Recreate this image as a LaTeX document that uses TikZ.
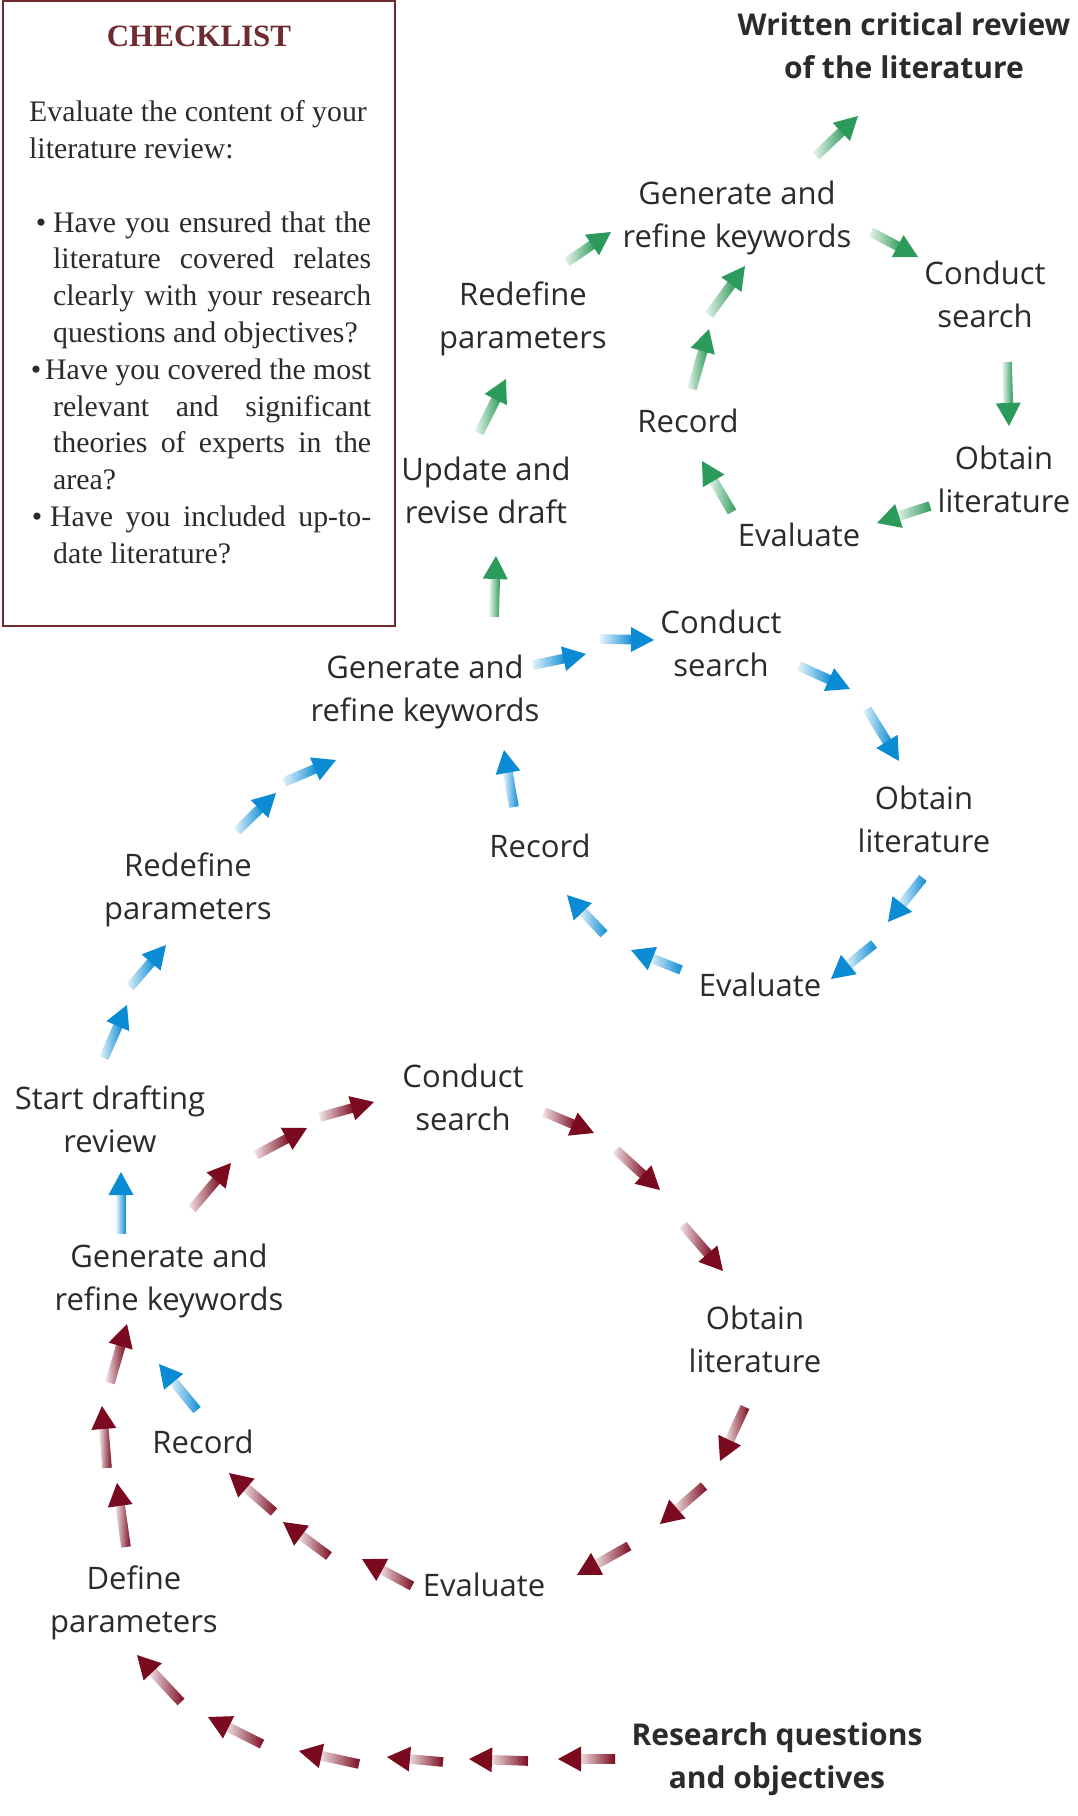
\documentclass[tikz,border=0pt]{standalone}
\usepackage{fontspec}
\setmainfont{Liberation Serif}
\newfontfamily\lblfont{Open Sans}
\usetikzlibrary{calc}
\definecolor{txt}{HTML}{2B2B2B}
\definecolor{boxc}{HTML}{6E2B30}
\definecolor{redc}{HTML}{7A0A1E}
\definecolor{bluec}{HTML}{0B8BD3}
\definecolor{greenc}{HTML}{2C9A5A}
\newcommand{\fa}[4]{%
  \coordinate (#1t) at #2; \coordinate (#1h) at #3;
  \path let \p1=($(#1h)-(#1t)$) in \pgfextra{\pgfmathsetmacro\tmpang{atan2(\y1,\x1)}\pgfmathsetmacro\tmplen{veclen(\x1,\y1)}\xdef\Fang{\tmpang}\xdef\Flen{\tmplen}};
  \begin{scope}[shift={(#1t)},rotate=\Fang]
    \shade[left color=#4!10, middle color=#4!80, right color=#4] (0pt,-4.8pt) rectangle ({\Flen pt-21pt},4.8pt);
    \fill[#4] (\Flen pt,0pt) -- ({\Flen pt-23pt},12.5pt) -- ({\Flen pt-23pt},-12.5pt) -- cycle;
  \end{scope}}
\newcommand\jline[3]{\hbox{\kern#1pt\hbox to #2pt{#3}}}
\newcommand\bline[4]{\hbox{\kern#1pt\llap{\textbullet\kern#2pt}\hbox to #3pt{#4}}}
\newcommand\nline[2]{\hbox{\kern#1pt #2}}
\begin{document}
\begin{tikzpicture}[x=1pt,y=-1pt,
  lbl/.style={font=\lblfont\fontsize{31}{43}\selectfont, align=center, text=txt, inner sep=0pt},
  blbl/.style={font=\lblfont\bfseries\fontsize{30}{43}\selectfont, align=center, text=txt, inner sep=0pt}]
\useasboundingbox[fill=white] (0,0) rectangle (1078,1816);
% checklist
\draw[boxc, line width=2pt] (3,1) rectangle (395,626);
\node[font=\bfseries\fontsize{31}{36}\selectfont, text=boxc, inner sep=0pt] (ttl) at (199,36) {CHECKLIST};
\node[anchor=north west, inner sep=0pt, text=txt, font=\fontsize{29.8}{36.8}\selectfont] (cl) at (29,100.5) {\vbox{%
\nline{0}{Evaluate the content of your}
\nline{0}{literature review:}
\vskip36.8pt
\bline{24}{7}{318}{Have you ensured that the}
\jline{24}{318}{literature covered relates}
\jline{24}{318}{clearly with your research}
\nline{24}{questions and objectives?}
\bline{16}{4}{326}{Have you covered the most}
\jline{24}{318}{relevant and significant}
\jline{24}{318}{theories of experts in the}
\nline{24}{area?}
\bline{21}{8}{321}{Have you included up-to-}
\nline{24}{date literature?}}};
% green cycle labels
\node[blbl] (gW) at (904,46) {Written critical review\\of the literature};
\node[lbl] (gG) at (737,218) {Generate and\\refine keywords};
\node[lbl] (gC) at (985,294) {Conduct\\search};
\node[lbl] (gO) at (1004,479) {Obtain\\literature};
\node[lbl] (gE) at (799,535) {Evaluate};
\node[lbl] (gR) at (688,421) {Record};
\node[lbl] (gRP) at (523,319) {Redefine\\parameters};
\node[lbl] (gU) at (486,490) {Update and\\revise draft};
% blue cycle labels
\node[lbl] (bG) at (425,692) {Generate and\\refine keywords};
\node[lbl] (bC) at (721,643) {Conduct\\search};
\node[lbl] (bO) at (924,819) {Obtain\\literature};
\node[lbl] (bE) at (760,985) {Evaluate};
\node[lbl] (bR) at (540,846) {Record};
\node[lbl] (bRP) at (188,890) {Redefine\\parameters};
\node[lbl] (bS) at (110,1119) {Start drafting\\review};
% red cycle labels
\node[lbl] (rC) at (463,1097) {Conduct\\search};
\node[lbl] (rO) at (755,1339) {Obtain\\literature};
\node[lbl] (rE) at (484,1585) {Evaluate};
\node[lbl] (rR) at (203,1442) {Record};
\node[lbl] (rG) at (169,1281) {Generate and\\refine keywords};
\node[lbl] (rD) at (134,1603) {Define\\parameters};
\node[blbl] (rQ) at (777,1759) {Research questions\\and objectives};
% green arrows
\fa{gA1}{(816,156)}{(858,116)}{greenc}
\fa{gA2}{(871,232)}{(918,257)}{greenc}
\fa{gA3}{(1007,362)}{(1009,426)}{greenc}
\fa{gA4}{(930,506)}{(877,523)}{greenc}
\fa{gA5}{(732,512)}{(702,461)}{greenc}
\fa{gA6}{(692,389)}{(709,329)}{greenc}
\fa{gA7}{(709,315)}{(745,266)}{greenc}
\fa{gA8}{(567,262)}{(611,232)}{greenc}
\fa{gA9}{(479,433)}{(506,379)}{greenc}
\fa{gA10}{(494,617)}{(496,556)}{greenc}
% blue arrows
\fa{bA1}{(533,665)}{(586,654)}{bluec}
\fa{bA2}{(600,639)}{(654,640)}{bluec}
\fa{bA3}{(799,666)}{(850,689)}{bluec}
\fa{bA4}{(867,709)}{(899,761)}{bluec}
\fa{bA5}{(923,878)}{(888,922)}{bluec}
\fa{bA6}{(874,944)}{(831,979)}{bluec}
\fa{bA7}{(681,970)}{(631,950)}{bluec}
\fa{bA8}{(604,934)}{(567,895)}{bluec}
\fa{bA9}{(514,807)}{(504,750)}{bluec}
\fa{bA10}{(237,831)}{(276,793)}{bluec}
\fa{bA11}{(284,782)}{(336,760)}{bluec}
\fa{bA12}{(104,1058)}{(127,1005)}{bluec}
\fa{bA13}{(130,987)}{(166,945)}{bluec}
\fa{bA14}{(121,1233)}{(121,1172)}{bluec}
\fa{bA15}{(197,1410)}{(159,1364)}{bluec}
% red arrows
\fa{rA1}{(192,1209)}{(231,1163)}{redc}
\fa{rA2}{(256,1155)}{(307,1128)}{redc}
\fa{rA3}{(320,1117)}{(374,1102)}{redc}
\fa{rA4}{(544,1112)}{(594,1133)}{redc}
\fa{rA5}{(616,1150)}{(660,1190)}{redc}
\fa{rA6}{(683,1225)}{(723,1271)}{redc}
\fa{rA7}{(745,1407)}{(720,1461)}{redc}
\fa{rA8}{(704,1486)}{(660,1524)}{redc}
\fa{rA9}{(629,1546)}{(577,1575)}{redc}
\fa{rA10}{(412,1586)}{(362,1559)}{redc}
\fa{rA11}{(329,1556)}{(283,1522)}{redc}
\fa{rA12}{(274,1512)}{(229,1473)}{redc}
\fa{rA13}{(126,1547)}{(117,1483)}{redc}
\fa{rA14}{(107,1468)}{(102,1406)}{redc}
\fa{rA15}{(110,1383)}{(127,1324)}{redc}
\fa{rA16}{(615,1759)}{(558,1759)}{redc}
\fa{rA17}{(528,1761)}{(469,1759)}{redc}
\fa{rA18}{(443,1762)}{(387,1757)}{redc}
\fa{rA19}{(359,1764)}{(299,1751)}{redc}
\fa{rA20}{(262,1744)}{(208,1717)}{redc}
\fa{rA21}{(181,1702)}{(137,1655)}{redc}
\end{tikzpicture}
\end{document}
